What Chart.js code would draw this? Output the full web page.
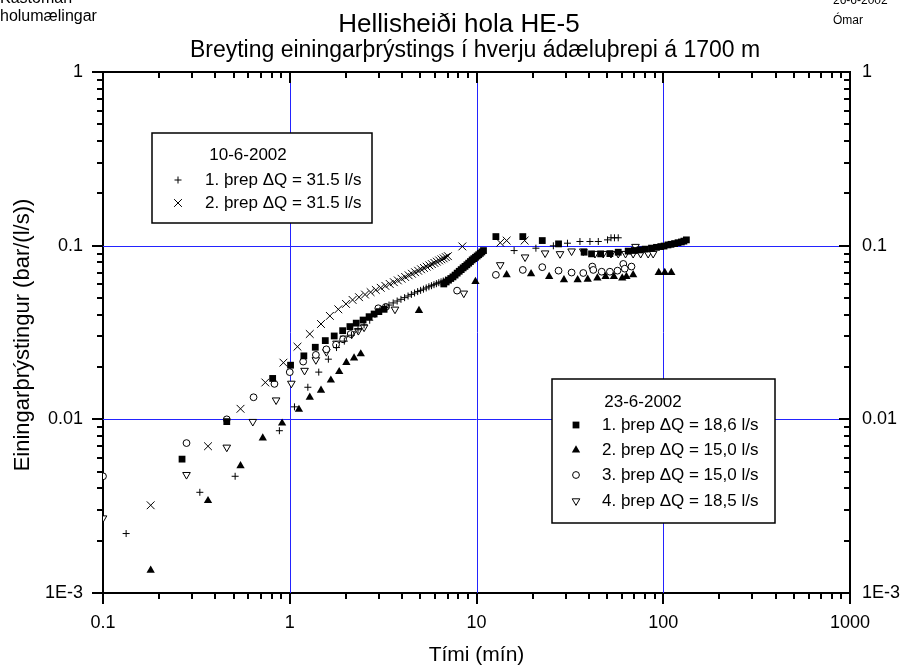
<!DOCTYPE html>
<html><head><meta charset="utf-8">
<script src="https://cdn.jsdelivr.net/npm/chart.js@4.4.1/dist/chart.umd.min.js"></script>
<style>html,body{margin:0;padding:0;background:#fff;overflow:hidden}#wrap{width:906px;height:668px;position:relative}</style>
</head><body><div id="wrap"><canvas id="c" width="906" height="668"></canvas></div>
<script>
const FONT = '"Liberation Sans", Arial, Helvetica, sans-serif';
const titleText = 'Hellisheiði hola HE-5';
const subtitleText = 'Breyting einingarþrýstings í hverju ádæluþrepi á 1700 m';
const xAxisTitle = 'Tími (mín)';
const yAxisTitle = 'Einingarþrýstingur (bar/(l/s))';
const cornerLeft = ['Kastoman', 'holumælingar'];
const cornerRight = ['26-6-2002', 'Ómar'];
const xTickValues = [0.1, 1, 10, 100, 1000];
const xTickLabels = ['0.1', '1', '10', '100', '1000'];
const yTickValues = [0.001, 0.01, 0.1, 1];
const yTickLabels = ['1E-3', '0.01', '0.1', '1'];
const xGridValues = [1, 10, 100];
const yGridValues = [0.01, 0.1];
const legend1Title = '10-6-2002';
const legend2Title = '23-6-2002';
const seriesLabels = ['1. þrep ΔQ = 31.5 l/s', '2. þrep ΔQ = 31.5 l/s',
  '1. þrep ΔQ = 18,6 l/s', '2. þrep ΔQ = 15,0 l/s', '3. þrep ΔQ = 15,0 l/s', '4. þrep ΔQ = 18,5 l/s'];

// 10-6-2002, 1. þrep (+)
const plusT = [0.133, 0.33, 0.51, 0.88, 1.06, 1.25, 1.43, 1.61, 1.78, 1.96, 2.14, 2.32, 2.50, 2.68, 2.86, 3.04, 3.22, 3.40, 3.58, 3.76, 3.94, 4.12, 4.30, 4.48, 4.66, 4.84, 5.02, 5.20, 5.38, 5.56, 5.74, 5.92, 6.10, 6.28, 6.46, 6.64, 6.82,
  15.9, 20.8, 25.8, 30.7, 35.8, 40.5, 44.9, 50.3, 52.5, 54.8, 57.4];
const plusV = [0.0022, 0.0038, 0.0047, 0.0086, 0.0118, 0.0153, 0.0187, 0.0222, 0.0259, 0.0282, 0.0305, 0.0328, 0.0350, 0.0372, 0.0402, 0.0425, 0.0441, 0.0455, 0.0468, 0.0480, 0.0491, 0.0502, 0.0513, 0.0524, 0.0534, 0.0544, 0.0553, 0.0562, 0.0571, 0.0580, 0.0588, 0.0596, 0.0604, 0.0612, 0.0619, 0.0626, 0.0633,
  0.0937, 0.0967, 0.0998, 0.1033, 0.1057, 0.1057, 0.1057, 0.108, 0.111, 0.111, 0.111];
// 10-6-2002, 2. þrep (x)
const crossT = [0.18, 0.365, 0.545, 0.74, 0.925, 1.10, 1.28, 1.47, 1.64, 1.82, 2.00, 2.17, 2.35, 2.53, 2.71, 2.89, 3.07, 3.25, 3.43, 3.61, 3.79, 3.97, 4.15, 4.33, 4.51, 4.69, 4.87, 5.05, 5.23, 5.41, 5.59, 5.77, 5.95, 6.13, 6.31, 6.49, 6.67, 6.85, 7.03,
  8.4, 13.4, 14.5, 18.1];
const crossV = [0.0032, 0.0070, 0.0115, 0.0163, 0.0212, 0.0262, 0.0310, 0.0354, 0.0394, 0.0430, 0.0462, 0.0487, 0.0505, 0.0523, 0.0540, 0.0556, 0.0572, 0.0587, 0.0602, 0.0616, 0.0631, 0.0645, 0.0660, 0.0675, 0.0689, 0.0703, 0.0717, 0.0731, 0.0744, 0.0757, 0.0770, 0.0783, 0.0796, 0.0809, 0.0822, 0.0834, 0.0845, 0.0859, 0.0870,
  0.099, 0.104, 0.107, 0.107];
// 23-6-2002, 1. þrep (filled square)
const squareT = [0.265, 0.46, 0.81, 1.01, 1.19, 1.37, 1.55, 1.73, 1.92, 2.10, 2.27, 2.47, 2.66, 2.83, 3.00, 3.20,
  6.68, 6.88, 7.08, 7.28, 7.48, 7.68, 7.88, 8.08, 8.28, 8.48, 8.68, 8.88, 9.08, 9.28, 9.48, 9.68, 9.88, 10.08, 10.28, 10.48, 10.68, 10.9,
  12.7, 17.7, 22.5, 27.5, 37.7, 41.3, 46.2, 51.8, 57.4, 64.9, 70, 75, 80, 86.5, 92, 97, 101, 106, 110, 115, 120, 125, 129, 133];
const squareV = [0.0059, 0.0097, 0.0172, 0.0205, 0.0232, 0.0260, 0.0284, 0.0302, 0.0324, 0.0342, 0.0358, 0.0373, 0.0390, 0.0404, 0.0417, 0.0430,
  0.0602, 0.0618, 0.0633, 0.0647, 0.0661, 0.0677, 0.0695, 0.0712, 0.0728, 0.0745, 0.0760, 0.0776, 0.0793, 0.0810, 0.0828, 0.0842, 0.0857, 0.0872, 0.0887, 0.0903, 0.0920, 0.0937,
  0.1128, 0.1128, 0.107, 0.1024, 0.0917, 0.0897, 0.0897, 0.0900, 0.0917, 0.0930, 0.0938, 0.0945, 0.0955, 0.0968, 0.0978, 0.0988, 0.0995, 0.1010, 0.1018, 0.1028, 0.1040, 0.1050, 0.1062, 0.108];
// 23-6-2002, 2. þrep (filled triangle)
const triT = [0.18, 0.365, 0.545, 0.717, 0.91, 1.12, 1.28, 1.47, 1.66, 1.84, 2.01, 2.21, 2.40, 4.92, 9.87, 14.5, 19.6, 24.5, 29.4, 34.8, 39.4, 44.4, 49.1, 54.4, 60.3, 63.5, 69, 94.6, 101.9, 110.4];
const triV = [0.00135, 0.0034, 0.0054, 0.0078, 0.0095, 0.0114, 0.0134, 0.0147, 0.0168, 0.0188, 0.0212, 0.0225, 0.0238, 0.0423, 0.0621, 0.0679, 0.0688, 0.0663, 0.0635, 0.0635, 0.0640, 0.0650, 0.0663, 0.0663, 0.0650, 0.0663, 0.0679, 0.070, 0.070, 0.070];
// 23-6-2002, 3. þrep (open circle)
const circT = [0.1, 0.28, 0.46, 0.64, 0.828, 1.0, 1.18, 1.38, 1.57, 1.77, 1.93, 2.12, 2.98, 3.27, 7.87, 12.7, 17.7, 22.5, 27.5, 32.3, 37.3, 41.7, 42.2, 46.8, 51.8, 56.9, 61.1, 62.2, 67.6];
const circV = [0.0047, 0.0073, 0.0100, 0.0134, 0.0160, 0.0187, 0.0215, 0.0235, 0.0253, 0.0269, 0.0289, 0.0310, 0.0436, 0.0444, 0.0551, 0.0679, 0.0725, 0.0752, 0.0718, 0.0700, 0.0696, 0.0758, 0.0725, 0.0708, 0.0708, 0.0718, 0.0785, 0.0737, 0.0758];
// 23-6-2002, 4. þrep (open down triangle)
const dtriT = [0.1, 0.28, 0.46, 0.634, 0.845, 1.02, 1.2, 1.38, 1.57, 1.78, 1.95, 2.15, 2.33, 2.5, 3.66, 8.55, 13.4, 18.2, 23.3, 28, 32.3, 37.3, 43.1, 47.7, 52.5, 57.4, 62.8, 69, 71, 75.7, 83, 88.3];
const dtriV = [0.0027, 0.0048, 0.0069, 0.0097, 0.0129, 0.0161, 0.0191, 0.0220, 0.0245, 0.0274, 0.0293, 0.0310, 0.0324, 0.0339, 0.0430, 0.0532, 0.0775, 0.0859, 0.0906, 0.0897, 0.0930, 0.0930, 0.0900, 0.0900, 0.0900, 0.0900, 0.0900, 0.0900, 0.0988, 0.0900, 0.0900, 0.0900];

const BLUE = '#2323ff';
const pts = (t, v) => t.map((x, i) => ({x: x, y: v[i]}));
const sameLog = (a, b) => Math.abs(Math.log10(a) - Math.log10(b)) < 1e-6;
const labelFor = (v, vals, labs) => { for (let i = 0; i < vals.length; i++) if (sameLog(v, vals[i])) return labs[i]; return ''; };

const styles = [
  {pointStyle: 'cross', radius: 3.5, rotation: 0, bg: '#000', bw: 1},
  {pointStyle: 'crossRot', radius: 5.5, rotation: 0, bg: '#000', bw: 1},
  {pointStyle: 'rect', radius: 4.8, rotation: 0, bg: '#000', bw: 0},
  {pointStyle: 'triangle', radius: 4.8, rotation: 0, bg: '#000', bw: 0},
  {pointStyle: 'circle', radius: 3.4, rotation: 0, bg: '#fff', bw: 1},
  {pointStyle: 'triangle', radius: 4.4, rotation: 180, bg: '#fff', bw: 1}
];
const seriesData = [pts(plusT, plusV), pts(crossT, crossV), pts(squareT, squareV), pts(triT, triV), pts(circT, circV), pts(dtriT, dtriV)];

const datasets = seriesData.map((d, i) => ({
  label: seriesLabels[i], data: d, showLine: false,
  pointStyle: styles[i].pointStyle, pointRadius: styles[i].radius, pointRotation: styles[i].rotation,
  pointBackgroundColor: styles[i].bg, pointBorderColor: '#000', pointBorderWidth: styles[i].bw,
  pointHoverRadius: styles[i].radius
}));

function legendPoint(ctx, st, x, y) {
  if (Chart.helpers && Chart.helpers.drawPoint) {
    ctx.save();
    ctx.fillStyle = st.bg; ctx.strokeStyle = '#000'; ctx.lineWidth = st.bw;
    Chart.helpers.drawPoint(ctx, {pointStyle: st.pointStyle, radius: st.radius, rotation: st.rotation, borderWidth: st.bw}, x, y);
    ctx.restore();
  }
}

const decor = {
  id: 'decor',
  beforeDatasetsDraw(chart) {
    const ctx = chart.ctx;
    const xs = chart.scales.x, ys = chart.scales.y;
    const a = chart.chartArea;
    ctx.save();
    ctx.strokeStyle = BLUE; ctx.lineWidth = 1;
    ctx.beginPath();
    xGridValues.forEach(v => {
      const p = Math.round(xs.getPixelForValue(v)) + 0.5;
      ctx.moveTo(p, a.top); ctx.lineTo(p, a.bottom);
    });
    yGridValues.forEach(v => {
      const p = Math.round(ys.getPixelForValue(v)) + 0.5;
      ctx.moveTo(a.left, p); ctx.lineTo(a.right, p);
    });
    ctx.stroke();
    ctx.restore();
  },
  afterDatasetsDraw(chart) {
    const ctx = chart.ctx;
    const drawLegend = (box, title, titleX, titleY, rows, symX, textX) => {
      ctx.save();
      ctx.fillStyle = '#fff';
      ctx.fillRect(box[0], box[1], box[2] - box[0], box[3] - box[1]);
      ctx.strokeStyle = '#000'; ctx.lineWidth = 1.5;
      ctx.strokeRect(box[0], box[1], box[2] - box[0], box[3] - box[1]);
      ctx.fillStyle = '#000';
      ctx.font = '17px ' + FONT;
      ctx.textBaseline = 'middle';
      ctx.textAlign = 'center';
      ctx.fillText(title, titleX, titleY);
      ctx.textAlign = 'left';
      rows.forEach(r => {
        legendPoint(ctx, styles[r.i], symX, r.y);
        ctx.fillStyle = '#000';
        ctx.fillText(seriesLabels[r.i], textX, r.y);
      });
      ctx.restore();
    };
    drawLegend([152, 133, 372, 223], legend1Title, 248, 155, [{i: 0, y: 180}, {i: 1, y: 203}], 178, 205);
    drawLegend([552, 379, 775, 523], legend2Title, 643, 402, [{i: 2, y: 425}, {i: 3, y: 450}, {i: 4, y: 475}, {i: 5, y: 501}], 576, 602);
  },
  afterDraw(chart) {
    const ctx = chart.ctx;
    const xs = chart.scales.x, ys = chart.scales.y;
    const a = chart.chartArea;
    const decadeTicks = (min, max) => {
      const arr = [];
      for (let e = Math.floor(Math.log10(min)); e <= Math.ceil(Math.log10(max)); e++) {
        for (let m = 1; m < 10; m++) {
          const v = m * Math.pow(10, e);
          if (v >= min * 0.9999 && v <= max * 1.0001) arr.push({v: v, major: m === 1});
        }
      }
      return arr;
    };
    ctx.save();
    ctx.strokeStyle = '#000'; ctx.lineWidth = 2;
    ctx.beginPath();
    decadeTicks(xs.min, xs.max).forEach(t => {
      const p = Math.round(xs.getPixelForValue(t.v));
      const L = t.major ? 11 : 6;
      ctx.moveTo(p, a.bottom); ctx.lineTo(p, a.bottom + L);
      ctx.moveTo(p, a.top); ctx.lineTo(p, a.top + L);
    });
    decadeTicks(ys.min, ys.max).forEach(t => {
      const p = Math.round(ys.getPixelForValue(t.v));
      const L = t.major ? 11 : 6;
      ctx.moveTo(a.left - L, p); ctx.lineTo(a.left, p);
      ctx.moveTo(a.right - L, p); ctx.lineTo(a.right, p);
    });
    ctx.stroke();

    ctx.fillStyle = '#000';
    ctx.textBaseline = 'alphabetic';
    ctx.textAlign = 'center';
    ctx.font = '26px ' + FONT;
    ctx.fillText(titleText, 459, 32);
    ctx.font = '23px ' + FONT;
    ctx.fillText(subtitleText, 475, 57);
    ctx.font = '21px ' + FONT;
    ctx.fillText(xAxisTitle, (a.left + a.right) / 2, 661);
    ctx.save();
    ctx.font = '22px ' + FONT;
    ctx.translate(29, 335);
    ctx.rotate(-Math.PI / 2);
    ctx.fillText(yAxisTitle, 0, 0);
    ctx.restore();
    ctx.textAlign = 'left';
    ctx.font = '16px ' + FONT;
    ctx.fillText(cornerLeft[0], 0, 3);
    ctx.fillText(cornerLeft[1], 0, 21);
    ctx.font = '12px ' + FONT;
    ctx.fillText(cornerRight[0], 833, 4);
    ctx.fillText(cornerRight[1], 833, 24);
    ctx.restore();
  }
};

const tickFont = {family: FONT, size: 18};
new Chart(document.getElementById('c'), {
  type: 'scatter',
  data: {datasets: datasets},
  options: {
    responsive: false, animation: false, devicePixelRatio: 1,
    layout: {padding: 0, autoPadding: false},
    plugins: {legend: {display: false}, title: {display: false}, tooltip: {enabled: false}},
    scales: {
      x: {
        type: 'logarithmic', position: 'bottom', min: 0.1, max: 1000,
        afterFit(s) { s.height = 75; },
        grid: {display: false, drawTicks: false},
        border: {display: true, color: '#000', width: 2},
        ticks: {autoSkip: false, maxRotation: 0, padding: 19, color: '#000', font: tickFont,
          callback: v => labelFor(v, xTickValues, xTickLabels)}
      },
      x2: {
        type: 'logarithmic', position: 'top', min: 0.1, max: 1000,
        afterFit(s) { s.height = 72; },
        grid: {display: false, drawTicks: false},
        border: {display: true, color: '#000', width: 2},
        ticks: {display: false}
      },
      y: {
        type: 'logarithmic', position: 'left', min: 0.001, max: 1,
        afterFit(s) { s.width = 103; },
        grid: {display: false, drawTicks: false},
        border: {display: true, color: '#000', width: 2},
        ticks: {autoSkip: false, padding: 20, color: '#000', font: tickFont,
          callback: v => labelFor(v, yTickValues, yTickLabels)}
      },
      y2: {
        type: 'logarithmic', position: 'right', min: 0.001, max: 1,
        afterFit(s) { s.width = 56; },
        grid: {display: false, drawTicks: false},
        border: {display: true, color: '#000', width: 2},
        ticks: {autoSkip: false, padding: 12, color: '#000', font: tickFont,
          callback: v => labelFor(v, yTickValues, yTickLabels)}
      }
    }
  },
  plugins: [decor]
});
</script></body></html>
